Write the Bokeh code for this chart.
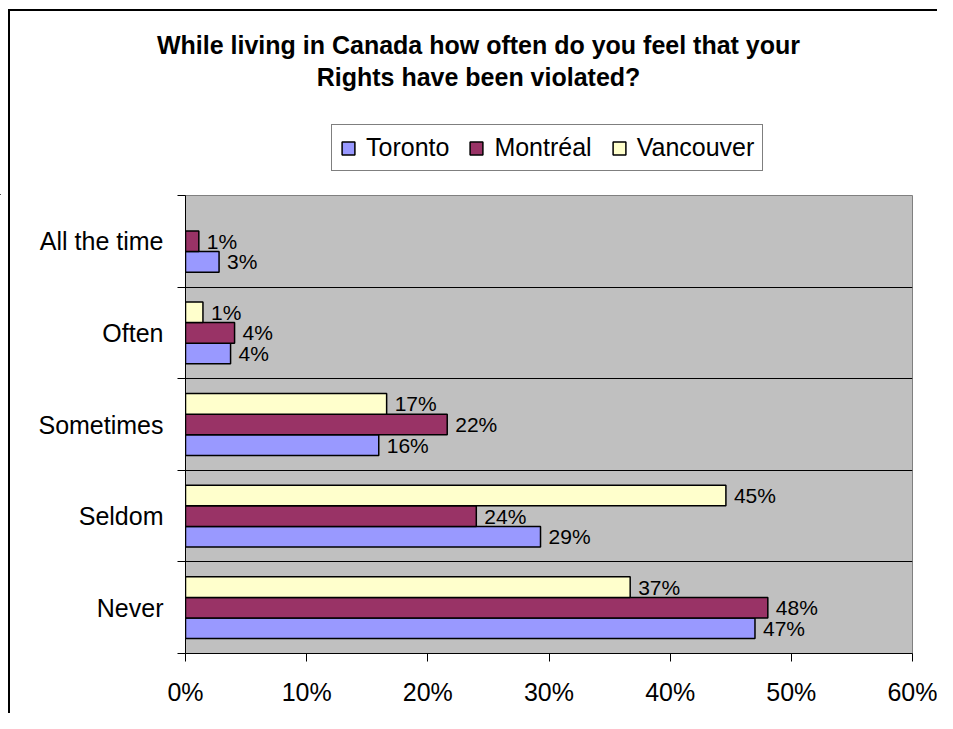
from bokeh.plotting import figure
from bokeh.layouts import column
from bokeh.models import FixedTicker, Legend, LegendItem, ColumnDataSource, Label
from bokeh.core.properties import value
from bokeh.embed import file_html
from bokeh.resources import INLINE

# ---- data ----
categories = ["Never", "Seldom", "Sometimes", "Often", "All the time"]
series_names = ["Toronto", "Montréal", "Vancouver"]
toronto = [47.0, 29.3, 15.95, 3.72, 2.77]
montreal = [48.06, 24.0, 21.6, 4.05, 1.1]
vancouver = [36.7, 44.6, 16.6, 1.44, 0.0]
x_ticks = [0, 10, 20, 30, 40, 50, 60]
title_lines = ["While living in Canada how often do you feel that your",
               "Rights have been violated?"]

FONT = "Liberation Sans"
colors = ["#9999FF", "#993366", "#FFFFCC"]
offsets = [-0.225, 0.0, 0.225]
BAR_H = 0.225
W = 937
HEAD_H = 195
BODY_H = 518

# ---------- header: title + legend ----------
# its ranges are far away from the data, so the legend renderers draw nothing
head = figure(width=W, height=HEAD_H, output_backend="svg", toolbar_location=None,
              title=None, x_axis_type=None, y_axis_type=None,
              x_range=(1000, 1001), y_range=(1000, 1001),
              min_border_left=0, min_border_right=0,
              min_border_top=0, min_border_bottom=0)
head.frame_align = False
head.outline_line_color = None
head.background_fill_color = None
head.border_fill_color = None
head.stylesheets = [":host { box-shadow: inset 8px 9px 0 0 white, inset 10px 11px 0 0 black; }"]

for i, line in enumerate(title_lines):
    head.add_layout(Label(x=478, y=44 + 32 * i, x_units="canvas", y_units="canvas",
                          text=line, text_align="center", text_baseline="middle",
                          text_font=FONT, text_font_style="bold",
                          text_font_size="25px", text_color="black"))

# ---------- body: the bar chart ----------
p = figure(width=W, height=BODY_H, output_backend="svg", toolbar_location=None,
           title=None, x_range=(0, 60), y_range=(-0.5, 4.5),
           min_border_left=185, min_border_right=25,
           min_border_top=0, min_border_bottom=60)
p.frame_align = False
p.stylesheets = [":host { box-shadow: inset 8px 0 0 0 white, inset 10px 0 0 0 black; }"]
p.background_fill_color = "#C0C0C0"
p.border_fill_color = None
p.outline_line_color = "#808080"
p.outline_line_width = 1

n = len(categories)
p.yaxis.ticker = FixedTicker(ticks=list(range(n)),
                             minor_ticks=[i - 0.5 for i in range(n + 1)])
p.yaxis.major_label_overrides = {i: c for i, c in enumerate(categories)}
p.yaxis.major_tick_out = 0
p.yaxis.major_tick_in = 0
p.yaxis.minor_tick_out = 8
p.yaxis.minor_tick_in = 0
p.yaxis.minor_tick_line_color = "black"
p.yaxis.axis_line_color = "black"
p.yaxis.major_label_standoff = 14
p.yaxis.major_label_text_font = FONT
p.yaxis.major_label_text_font_size = "25px"
p.yaxis.major_label_text_color = "black"

p.xaxis.ticker = FixedTicker(ticks=x_ticks, minor_ticks=[])
p.xaxis.major_label_overrides = {t: f"{t}%" for t in x_ticks}
p.xaxis.major_tick_out = 8
p.xaxis.major_tick_in = 0
p.xaxis.minor_tick_out = 0
p.xaxis.minor_tick_in = 0
p.xaxis.major_tick_line_color = "black"
p.xaxis.axis_line_color = "black"
p.xaxis.major_label_standoff = 16
p.xaxis.major_label_text_font = FONT
p.xaxis.major_label_text_font_size = "25px"
p.xaxis.major_label_text_color = "black"

p.xgrid.visible = False
p.ygrid.ticker = FixedTicker(ticks=[i + 0.5 for i in range(n - 1)])
p.ygrid.grid_line_color = "black"
p.ygrid.grid_line_width = 1

items = []
for name, vals, off, col in zip(series_names, [toronto, montreal, vancouver], offsets, colors):
    keep = [i for i, v in enumerate(vals) if v > 0]
    src = ColumnDataSource(dict(
        y=[i + off for i in keep],
        right=[vals[i] for i in keep],
        label=[f"{round(vals[i])}%" for i in keep],
    ))
    p.hbar(y="y", right="right", left=0, height=BAR_H, source=src,
           fill_color=col, line_color="black", line_width=1.5)
    p.text(x="right", y="y", text="label", source=src, x_offset=8,
           text_align="left", text_baseline="middle", text_color="black",
           text_font=value(FONT), text_font_size="21px")
    # same series drawn in the header (outside its view) only to key the legend
    key = head.hbar(y="y", right="right", left=0, height=BAR_H, source=src,
                    fill_color=col, line_color="black", line_width=1.5)
    items.append(LegendItem(label=name, renderers=[key]))

legend = Legend(items=items, orientation="horizontal", location=(331, 24),
                border_line_color="black", border_line_width=1,
                background_fill_color="white", background_fill_alpha=1.0,
                padding=8, spacing=19, label_standoff=10, margin=0,
                glyph_width=16, glyph_height=16,
                label_text_font=FONT, label_text_font_size="25px",
                label_text_color="black")
head.add_layout(legend)

layout = column(head, p, spacing=0)
open("out.html", "w").write(file_html(layout, INLINE))
